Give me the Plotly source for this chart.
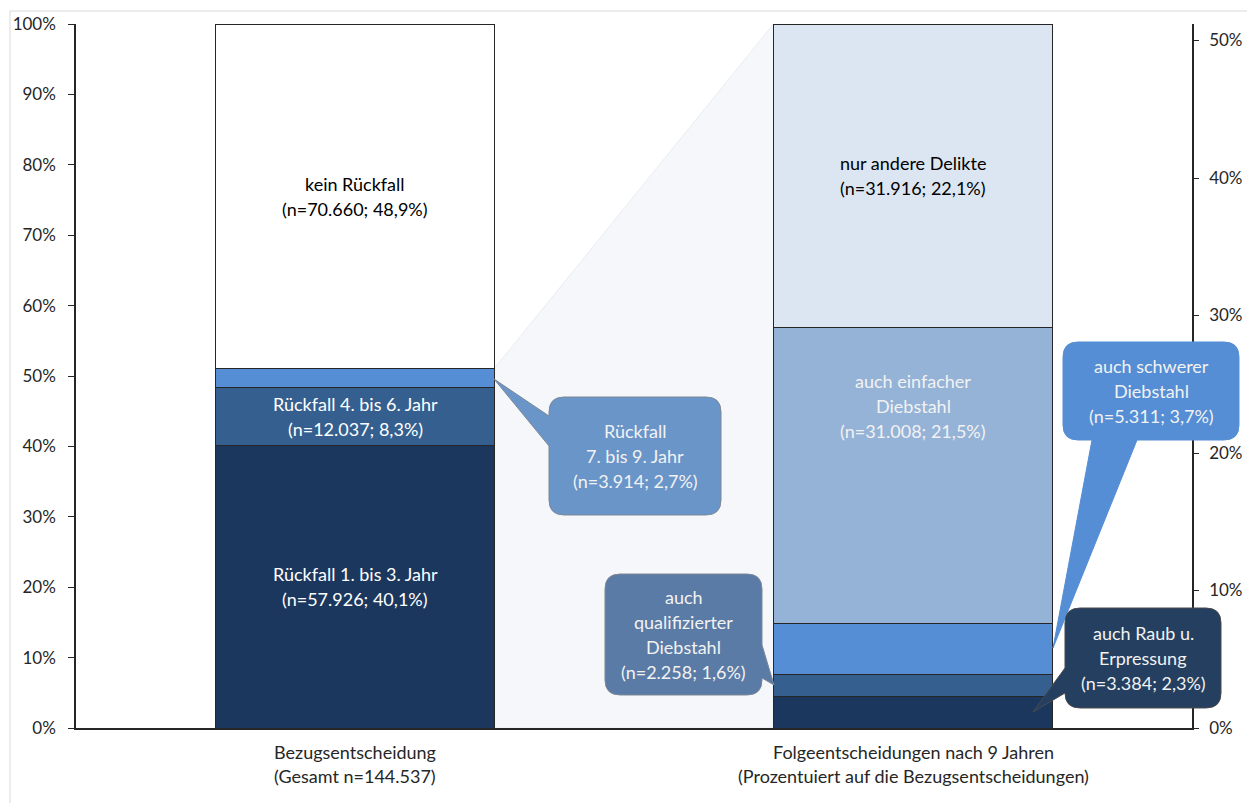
import plotly.graph_objects as go

# ---------------- data ----------------
categories = ["Bezugsentscheidung", "Folgeentscheidungen nach 9 Jahren"]
category_sub = ["(Gesamt n=144.537)", "(Prozentuiert auf die Bezugsentscheidungen)"]

left_labels = ["Rückfall 1. bis 3. Jahr", "Rückfall 4. bis 6. Jahr", "Rückfall 7. bis 9. Jahr", "kein Rückfall"]
left_n = ["57.926", "12.037", "3.914", "70.660"]
left_pct = [40.1, 8.3, 2.7, 48.9]

right_labels = ["auch Raub u. Erpressung", "auch qualifizierter Diebstahl", "auch schwerer Diebstahl",
                "auch einfacher Diebstahl", "nur andere Delikte"]
right_n = ["3.384", "2.258", "5.311", "31.008", "31.916"]
right_pct = [2.3, 1.6, 3.7, 21.5, 22.1]

left_ticks = list(range(0, 101, 10))
right_ticks = list(range(0, 51, 10))

# ---------------- styles ----------------
left_colors = ["#1c375e", "#355f8f", "#558ed5", "#ffffff"]
right_colors = ["#1c375e", "#355f8f", "#558ed5", "#95b3d7", "#dce6f2"]
FONT = "Lato"
FS = 18
TICK_FS = 17
TXT = "#262626"
W, H = 1247, 803
L, R, T, B = 76, 1192, 24, 728
BAR_W = 0.5
LINE_SP = 25


def px(x):
    return (x - L) / (R - L)


def py(y):
    return (B - y) / (B - T)


def pct(v):
    return str(v).replace(".", ",") + "%"


fig = go.Figure()

for lab, v, c in zip(left_labels, left_pct, left_colors):
    fig.add_trace(go.Bar(x=[0], y=[v], name=lab, marker=dict(color=c, line=dict(color="#262626", width=1)),
                         width=BAR_W, hoverinfo="skip", yaxis="y"))
for lab, v, c in zip(right_labels, right_pct, right_colors):
    fig.add_trace(go.Bar(x=[1], y=[v], name=lab, marker=dict(color=c, line=dict(color="#262626", width=1)),
                         width=BAR_W, hoverinfo="skip", yaxis="y2"))

annotations = []


def data_label(x, y, yref, lines, color, yshift=0):
    n = len(lines)
    for i, line in enumerate(lines):
        annotations.append(dict(x=x, y=y, xref="x", yref=yref, text=line, showarrow=False,
                                xanchor="center", yanchor="middle",
                                font=dict(family=FONT, size=FS, color=color),
                                yshift=yshift + ((n - 1) / 2 - i) * LINE_SP))


def px_label(cx, cy, lines, color):
    n = len(lines)
    for i, line in enumerate(lines):
        yy = cy - (n - 1) / 2 * LINE_SP + i * LINE_SP
        annotations.append(dict(x=px(cx), y=py(yy), xref="paper", yref="paper", text=line, showarrow=False,
                                xanchor="center", yanchor="middle",
                                font=dict(family=FONT, size=FS, color=color)))


# left bar labels
cum = 0
left_mid = []
for v in left_pct:
    left_mid.append(cum + v / 2)
    cum += v
rueckfall_total = sum(left_pct[:3])
data_label(0, left_mid[0], "y", [left_labels[0], f"(n={left_n[0]}; {pct(left_pct[0])})"], "#ffffff")
data_label(0, left_mid[1], "y", [left_labels[1], f"(n={left_n[1]}; {pct(left_pct[1])})"], "#ffffff")
data_label(0, left_mid[3], "y", [left_labels[3], f"(n={left_n[3]}; {pct(left_pct[3])})"], "#000000")

# right bar labels
cum = 0
right_mid = []
for v in right_pct:
    right_mid.append(cum + v / 2)
    cum += v
right_total = cum
data_label(1, right_mid[4], "y2", ["nur andere Delikte", f"(n={right_n[4]}; {pct(right_pct[4])})"], "#000000")
data_label(1, right_mid[3], "y2", ["auch einfacher", "Diebstahl", f"(n={right_n[3]}; {pct(right_pct[3])})"],
           "#f2f2f2", yshift=70)

# category labels under axis
for i, (c, s) in enumerate(zip(categories, category_sub)):
    annotations.append(dict(x=i, y=py(752), xref="x", yref="paper", text=c, showarrow=False,
                            xanchor="center", yanchor="middle", font=dict(family=FONT, size=FS, color=TXT)))
    annotations.append(dict(x=i, y=py(776), xref="x", yref="paper", text=s, showarrow=False,
                            xanchor="center", yanchor="middle", font=dict(family=FONT, size=FS, color=TXT)))


def callout_path(x0, y0, x1, y1, r, side, base, tip):
    def P(x, y):
        return f"{px(x):.5f},{py(y):.5f}"
    tx, ty = tip
    s = f"M {P(x0 + r, y0)}"
    if side == "top":
        s += f" L {P(base[0], y0)} L {P(tx, ty)} L {P(base[1], y0)}"
    s += f" L {P(x1 - r, y0)} Q {P(x1, y0)} {P(x1, y0 + r)}"
    if side == "right":
        s += f" L {P(x1, base[0])} L {P(tx, ty)} L {P(x1, base[1])}"
    s += f" L {P(x1, y1 - r)} Q {P(x1, y1)} {P(x1 - r, y1)}"
    if side == "bottom":
        s += f" L {P(base[1], y1)} L {P(tx, ty)} L {P(base[0], y1)}"
    s += f" L {P(x0 + r, y1)} Q {P(x0, y1)} {P(x0, y1 - r)}"
    if side == "left":
        s += f" L {P(x0, base[1])} L {P(tx, ty)} L {P(x0, base[0])}"
    s += f" L {P(x0, y0 + r)} Q {P(x0, y0)} {P(x0 + r, y0)} Z"
    return s


shapes = []
# outer chart border
shapes.append(dict(type="rect", xref="paper", yref="paper", x0=px(10), x1=px(1262), y0=py(11), y1=py(820),
                   line=dict(color="#d9d9d9", width=1), fillcolor="rgba(0,0,0,0)", layer="below"))
# connector trapezoid
shapes.append(dict(type="path", xref="x", yref="y", layer="below",
                   path=f"M {BAR_W/2},0 L {BAR_W/2},{rueckfall_total} L {1-BAR_W/2},100 L {1-BAR_W/2},0 Z",
                   fillcolor="#f5f7fa", line=dict(color="#e8ecf2", width=1)))

callouts = [
    ((549, 397, 721, 515), "left", (416, 446), (494, 379), "#6a95c9", "#7d8896",
     ["Rückfall", "7. bis 9. Jahr", f"(n={left_n[2]}; {pct(left_pct[2])})"]),
    ((1063, 342, 1239, 440), "bottom", (1092, 1137), (1053, 648), "#558ed5", "#558ed5",
     ["auch schwerer", "Diebstahl", f"(n={right_n[2]}; {pct(right_pct[2])})"]),
    ((605, 574, 762, 695), "right", (645, 678), (774, 685), "#5a7ba6", "#7d8896",
     ["auch", "qualifizierter", "Diebstahl", f"(n={right_n[1]}; {pct(right_pct[1])})"]),
    ((1065, 608, 1221, 708), "left", (668, 693), (1033, 712), "#243f60", "#4a4a4a",
     ["auch Raub u.", "Erpressung", f"(n={right_n[0]}; {pct(right_pct[0])})"]),
]
for (x0, y0, x1, y1), side, base, tip, fill, border, lines in callouts:
    shapes.append(dict(type="path", xref="paper", yref="paper", layer="above",
                       path=callout_path(x0, y0, x1, y1, 15, side, base, tip),
                       fillcolor=fill, line=dict(color=border, width=1)))
    px_label((x0 + x1) / 2, (y0 + y1) / 2, lines, "#f2f2f2")

fig.update_layout(
    width=W, height=H,
    margin=dict(l=L, r=W - R, t=T, b=H - B, pad=0, autoexpand=False),
    paper_bgcolor="white", plot_bgcolor="white",
    barmode="stack", showlegend=False,
    font=dict(family=FONT, size=FS, color=TXT),
    xaxis=dict(range=[-0.5, 1.5], showticklabels=False, ticks="", showgrid=False, zeroline=False,
               showline=True, linecolor="#262626", linewidth=1.5, fixedrange=True, automargin=False),
    yaxis=dict(range=[0, 100], tickvals=left_ticks, ticktext=[f"{v}%" for v in left_ticks],
               ticks="outside", ticklen=6, tickcolor="#262626", showline=True, linecolor="#262626",
               linewidth=1.5, showgrid=False, zeroline=False, ticklabelstandoff=9, automargin=False,
               tickfont=dict(family=FONT, size=TICK_FS, color=TXT)),
    yaxis2=dict(range=[0, max(right_total, rueckfall_total)], overlaying="y", side="right",
                tickvals=right_ticks, ticktext=[f"{v}%" for v in right_ticks],
                ticks="outside", ticklen=5, tickcolor="#262626", showline=True, linecolor="#262626",
                linewidth=1.5, showgrid=False, zeroline=False, ticklabelstandoff=7, automargin=False,
                tickfont=dict(family=FONT, size=TICK_FS, color=TXT)),
    annotations=annotations,
    shapes=shapes,
)

fig.write_html("out.html", config={"displayModeBar": False},
               post_script="document.body.style.margin='0';document.body.style.overflow='hidden';")
